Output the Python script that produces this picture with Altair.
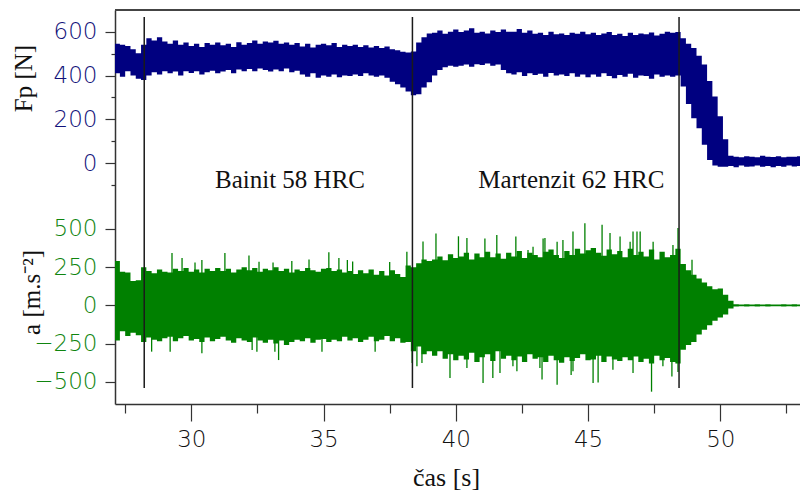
import altair as alt
import pandas as pd

# sample times (s), 0.2 s apart
t = [round(27.1 + 0.2 * i, 2) for i in range(131)]

fp_hi = [545, 540, 535, 520, 502,  540, 570, 560, 575, 555,  545, 560, 540, 550, 535,
         545, 530, 548, 540, 550,  538, 545, 530, 552, 540,  548, 560, 545, 555, 550,
         558, 545, 550, 540, 548,  532, 545, 528, 540, 545,  538, 548, 530, 540, 535,
         540, 530, 538, 528, 535,  525, 532, 520, 515, 508,  505, 510, 550, 575, 592,
         595, 605, 590, 600, 610,  598, 605, 615, 595, 600,  592, 605, 598, 610, 600,
         600, 612, 595, 605, 590,  595, 585, 600, 588, 592,  585, 595, 590, 600, 588,
         595, 585, 592, 598, 585,  590, 580, 595, 585, 592,  588, 596, 582, 590, 600,
         595, 598, 570, 545, 525,  490, 450, 375, 305, 215,  110, 35, 30, 28, 32,
         30, 28, 35, 30, 29,  32, 28, 30, 30, 32,  30]
fp_lo = [410, 395, 420, 400, 385,  380, 400, 415, 405, 420,  410, 418, 400, 420, 412,
         420, 405, 415, 422, 410,  418, 425, 410, 428, 420,  430, 420, 432, 425, 418,
         428, 420, 432, 415, 422,  405, 395, 410, 390, 400,  395, 405, 392, 400, 398,
         405, 398, 410, 400, 395,  400, 390, 372, 360, 345,  327, 310, 315, 345, 370,
         400, 425, 438, 445, 440,  445, 450, 440, 452, 448,  455, 445, 450, 425, 410,
         405, 415, 398, 410, 402,  408, 395, 412, 400, 405,  398, 410, 395, 405, 392,
         405, 395, 410, 398, 388,  402, 395, 408, 390, 400,  398, 385, 405, 395, 400,
         395, 400, 350, 270, 205,  160, 85, 15, -10, -15,  -15, -12, -18, -10, -15,
         -14, -10, -16, -12, -18,  -12, -15, -10, -14, -12,  -15]

a_hi = [290, 220, 215, 160, 165,  250, 225, 210, 235, 220,  215, 240, 225, 245, 220,
        235, 215, 240, 225, 245,  225, 240, 215, 235, 250,  230, 245, 220, 240, 230,
        250, 225, 240, 215, 235,  225, 245, 230, 220, 240,  245, 225, 235, 215, 225,
        205, 230, 210, 235, 200,  225, 195, 230, 205, 185,  260, 250, 275, 300, 290,
        300, 320, 295, 335, 310,  320, 345, 300, 340, 315,  350, 315, 340, 305, 345,
        320, 355, 310, 345, 330,  315, 350, 365, 330, 310,  355, 330, 370, 340, 360,
        375, 345, 325, 365, 335,  355, 315, 370, 330, 350,  320, 365, 300, 350, 315,
        330, 370, 270, 230, 200,  175, 150, 125, 105, 110,  70, 30, 8, 6, 8,
        6, 8, 6, 7, 6,  6, 8, 6, 7, 6,  6]
a_lo = [-230, -170, -200, -180, -195,  -240, -210, -225, -235, -215,  -205, -235, -215, -200, -230,
        -220, -240, -210, -235, -220,  -205, -230, -245, -215, -230,  -240, -210, -230, -245, -225,
        -250, -230, -260, -240, -225,  -235, -215, -245, -225, -220,  -240, -225, -235, -205, -230,
        -215, -240, -225, -205, -235,  -225, -200, -235, -215, -245,  -240, -300, -270, -320, -300,
        -330, -300, -350, -320, -360,  -330, -355, -310, -370, -340,  -320, -365, -300, -350, -330,
        -360, -335, -370, -320, -350,  -340, -370, -330, -360, -375,  -340, -365, -345, -320, -360,
        -355, -330, -370, -335, -355,  -365, -340, -360, -335, -370,  -350, -380, -330, -360, -345,
        -370, -380, -290, -260, -240,  -190, -160, -130, -100, -80,  -60, -20, -8, -6, -8,
        -6, -8, -6, -7, -6,  -6, -8, -6, -7, -6,  -6]

spike_top_t = [29.27, 29.65, 30.14, 30.4, 31.27, 32.18, 32.56, 33.09, 33.8, 34.45, 35.2, 35.58,
               35.9, 36.1, 37.5, 38.15, 38.76, 39.25, 40.1, 40.42, 41.1, 41.55, 42.27, 42.73,
               42.92, 43.3, 43.37, 43.83, 44.05, 44.43, 44.88, 45.53, 45.83, 46.21, 46.59,
               46.7, 46.85, 46.97, 47.46, 48.21, 48.4, 48.93]
spike_top_v = [342, 310, 280, 297, 342, 326, 286, 280, 290, 300, 347, 310,
               297, 287, 283, 351, 418, 471, 452, 441, 437, 460, 450, 362,
               383, 437, 440, 416, 427, 484, 538, 527, 473, 451, 417,
               484, 484, 484, 417, 395, 506, 298]
spike_bot_t = [28.5, 29.2, 30.4, 32.3, 32.48, 33.16, 33.3, 34.94, 36.95, 38.35, 38.53, 38.72,
               39.78, 40.42, 41.03, 41.4, 41.67, 42.16, 42.31, 43.18, 43.26, 43.83, 44.36,
               44.43, 45.19, 45.38, 45.94, 46.7, 47.4, 47.83, 48.17, 48.4]
spike_bot_v = [-303, -303, -314, -292, -303, -303, -358, -303, -303, -377, -399, -378,
               -476, -410, -508, -475, -442, -399, -431, -410, -486, -519, -455,
               -432, -508, -505, -421, -442, -565, -399, -465, -436]

boundaries = [28.22, 38.36, 48.44]
labels = ["Bainit 58 HRC", "Martenzit 62 HRC"]
label_t = [33.73, 44.37]
label_fp = [-112, -112]

x_ticks = [27.5, 30, 32.5, 35, 37.5, 40, 42.5, 45, 47.5, 50, 52.5]
fp_ticks = [-100, 0, 100, 200, 300, 400, 500, 600]
a_ticks = [-500, -250, 0, 250, 500]

NAVY = "#000080"
GREEN = "#008000"
W, H = 685, 394

df_fp = pd.DataFrame({"t": t, "lo": fp_lo, "hi": fp_hi})
df_a = pd.DataFrame({"t": t, "lo": a_lo, "hi": a_hi})
df_st = pd.DataFrame({"t": spike_top_t, "v": spike_top_v, "b": [0] * len(spike_top_t)})
df_sb = pd.DataFrame({"t": spike_bot_t, "v": spike_bot_v, "b": [0] * len(spike_bot_t)})
df_lines = pd.DataFrame({"t": boundaries})
df_text = pd.DataFrame({"t": label_t, "y": label_fp, "label": labels})

x_axis = alt.Axis(
    values=x_ticks,
    labelExpr="datum.value % 5 === 0 ? datum.label : ''",
    tickSize={"condition": {"test": "datum.value % 5 === 0", "value": 17}, "value": 9},
    labelFont="DejaVu Sans", labelFontSize=23, labelFontWeight=200, labelColor="#111",
    labelPadding=7, domainColor="#333", tickColor="#333", domainWidth=1.5, tickWidth=1.2,
    grid=False, title="čas [s]", titleFont="Liberation Serif", titleFontSize=26,
    titleFontWeight="normal", titleColor="#111", titleX=331, titleY=73,
    titleBaseline="middle", titleAlign="center",
)
x_enc = alt.X("t:Q", scale=alt.Scale(domain=[27.115, 53.013], nice=False, zero=False), axis=x_axis)

fp_axis = alt.Axis(
    orient="left", values=fp_ticks,
    labelExpr="datum.value % 200 === 0 ? datum.label : ''",
    tickSize={"condition": {"test": "datum.value % 200 === 0", "value": 10}, "value": 4},
    labelFont="DejaVu Sans", labelFontSize=23, labelFontWeight=200, labelColor="#12127a",
    labelPadding=8, domainColor="#333", tickColor="#333", domainWidth=1.5, tickWidth=1.2,
    grid=False, title="Fp [N]", titleFont="Liberation Serif", titleFontSize=25,
    titleFontWeight="normal", titleColor="#111", titleX=-92, titleY=68,
    titleBaseline="middle", titleAlign="center", titleAngle=270,
)
fp_scale = alt.Scale(domain=[-1096.4, 698.6], nice=False, zero=False)

a_axis = alt.Axis(
    orient="left", values=a_ticks, tickSize=10,
    labelFont="DejaVu Sans", labelFontSize=23, labelFontWeight=200, labelColor="#0f850f",
    labelPadding=8, domain=False, tickColor="#333", tickWidth=1.2,
    grid=False, title="a [m.s⁻²]", titleFont="Liberation Serif", titleFontSize=25,
    titleFontWeight="normal", titleColor="#111", titleX=-84, titleY=282,
    titleBaseline="middle", titleAlign="center", titleAngle=270,
)
a_scale = alt.Scale(domain=[-645.6, 1932.9], nice=False, zero=False)

fp_area = alt.Chart(df_fp).mark_area(color=NAVY, interpolate="step-after", clip=True).encode(
    x=x_enc, y=alt.Y("lo:Q", scale=fp_scale, axis=fp_axis), y2="hi:Q"
)
fp_text = alt.Chart(df_text).mark_text(
    font="Liberation Serif", fontSize=25, color="#111", baseline="alphabetic", align="center"
).encode(x=x_enc, y=alt.Y("y:Q", scale=fp_scale, axis=fp_axis), text="label:N")
fp_layer = alt.layer(fp_area, fp_text)

a_area = alt.Chart(df_a).mark_area(color=GREEN, interpolate="step-after", clip=True).encode(
    x=x_enc, y=alt.Y("lo:Q", scale=a_scale, axis=a_axis), y2="hi:Q"
)
a_st = alt.Chart(df_st).mark_rule(color=GREEN, strokeWidth=1.3).encode(
    x=x_enc, y=alt.Y("b:Q", scale=a_scale, axis=a_axis), y2="v:Q"
)
a_sb = alt.Chart(df_sb).mark_rule(color=GREEN, strokeWidth=1.3).encode(
    x=x_enc, y=alt.Y("b:Q", scale=a_scale, axis=a_axis), y2="v:Q"
)
a_layer = alt.layer(a_area, a_st, a_sb)

vlines = alt.Chart(df_lines).mark_rule(color="#1a1a1a", strokeWidth=1.5).encode(
    x=x_enc, y=alt.value(7), y2=alt.value(378)
)
topline = alt.Chart(df_lines).mark_rule(color="#444", strokeWidth=2).encode(
    x=alt.value(0), x2=alt.value(W), y=alt.value(0)
)

chart = alt.layer(fp_layer, a_layer, vlines, topline).resolve_scale(y="independent").properties(
    width=W, height=H,
    autosize=alt.AutoSizeParams(type="none"),
    padding={"left": 115, "top": 10, "right": 0, "bottom": 87},
    background="white",
).configure_view(stroke=None)

chart.save("out.html", embed_options={"renderer": "svg", "actions": False})
